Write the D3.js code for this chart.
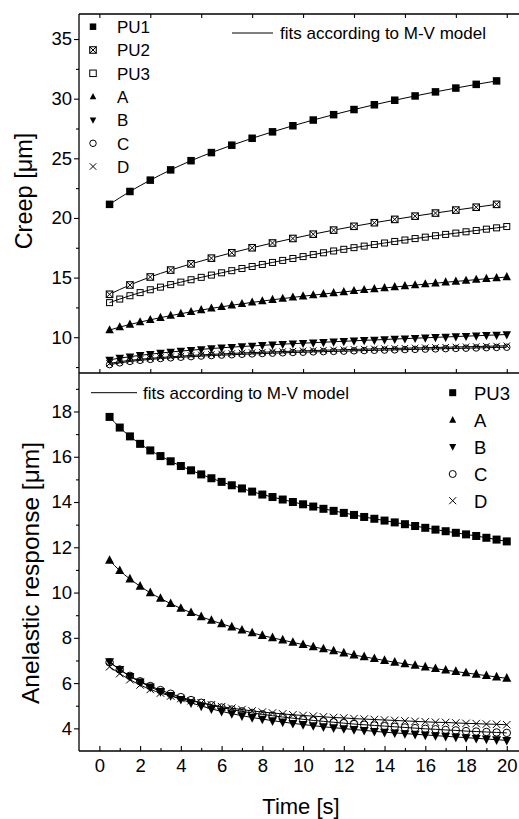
<!DOCTYPE html>
<html><head><meta charset="utf-8">
<script src="https://cdn.jsdelivr.net/npm/d3@7"></script>
<style>body{margin:0;background:#fff} text{font-family:Arial,"Liberation Sans",sans-serif;fill:#000}</style>
</head><body><svg id="c" width="519" height="819"></svg>
<script>
// ---- data ----
const timeCoarse = [0.5,1.5,2.5,3.5,4.5,5.5,6.5,7.5,8.5,9.5,10.5,11.5,12.5,13.5,14.5,15.5,16.5,17.5,18.5,19.5];
const timeFine = [0.5,1,1.5,2,2.5,3,3.5,4,4.5,5,5.5,6,6.5,7,7.5,8,8.5,9,9.5,10,10.5,11,11.5,12,12.5,13,13.5,14,14.5,15,15.5,16,16.5,17,17.5,18,18.5,19,19.5,20];

const creepPU1 = [21.14,22.22,23.17,24.03,24.8,25.48,26.1,26.68,27.22,27.73,28.21,28.66,29.09,29.49,29.87,30.23,30.57,30.89,31.2,31.49];
const creepPU2 = [13.6,14.38,15.05,15.63,16.15,16.63,17.08,17.5,17.9,18.28,18.64,18.98,19.3,19.6,19.88,20.15,20.41,20.66,20.9,21.14];
const creepPU3 = [12.9,13.2,13.48,13.74,13.98,14.2,14.41,14.62,14.82,15.02,15.21,15.4,15.58,15.76,15.93,16.1,16.27,16.44,16.6,16.76,16.93,17.08,17.23,17.37,17.51,17.64,17.77,17.9,18.03,18.15,18.27,18.39,18.51,18.62,18.73,18.84,18.95,19.06,19.17,19.28];
const creepA = [10.6,10.85,11.07,11.27,11.46,11.64,11.81,11.97,12.13,12.28,12.42,12.55,12.68,12.8,12.92,13.03,13.14,13.24,13.34,13.44,13.53,13.62,13.71,13.8,13.89,13.97,14.05,14.13,14.21,14.29,14.37,14.45,14.53,14.61,14.68,14.75,14.83,14.9,14.97,15.05];
const creepB = [8.1,8.25,8.37,8.48,8.58,8.67,8.76,8.84,8.91,8.98,9.05,9.11,9.17,9.22,9.27,9.32,9.37,9.42,9.46,9.5,9.54,9.58,9.62,9.66,9.7,9.74,9.77,9.81,9.85,9.88,9.92,9.95,9.99,10.02,10.06,10.09,10.12,10.16,10.19,10.23];
const creepC = [7.7,7.85,7.97,8.06,8.14,8.21,8.27,8.32,8.37,8.42,8.46,8.5,8.53,8.57,8.6,8.63,8.66,8.69,8.72,8.74,8.77,8.79,8.81,8.83,8.86,8.88,8.9,8.92,8.94,8.96,8.98,9.0,9.02,9.04,9.06,9.08,9.1,9.12,9.14,9.16];
const creepD = [7.8,7.95,8.06,8.15,8.23,8.3,8.36,8.42,8.47,8.52,8.56,8.6,8.64,8.68,8.71,8.74,8.77,8.8,8.83,8.86,8.88,8.91,8.93,8.95,8.98,9.0,9.02,9.04,9.06,9.08,9.1,9.12,9.14,9.16,9.18,9.2,9.22,9.24,9.26,9.28];

const anelPU3 = [17.76,17.29,16.9,16.57,16.28,16.03,15.8,15.59,15.4,15.22,15.05,14.89,14.74,14.6,14.46,14.33,14.22,14.11,14.0,13.9,13.8,13.7,13.61,13.52,13.43,13.34,13.26,13.18,13.1,13.02,12.94,12.86,12.78,12.71,12.64,12.57,12.5,12.42,12.34,12.26];
const anelA = [11.42,10.97,10.6,10.28,9.99,9.74,9.51,9.3,9.11,8.93,8.77,8.62,8.48,8.34,8.22,8.1,8.0,7.9,7.8,7.7,7.6,7.51,7.42,7.33,7.24,7.16,7.08,7.0,6.92,6.85,6.78,6.71,6.64,6.57,6.51,6.45,6.39,6.33,6.27,6.21];
const anelB = [6.95,6.6,6.3,6.05,5.83,5.63,5.45,5.28,5.13,4.99,4.86,4.75,4.65,4.56,4.48,4.41,4.34,4.28,4.22,4.17,4.12,4.07,4.03,3.99,3.95,3.91,3.87,3.83,3.8,3.77,3.74,3.71,3.68,3.65,3.62,3.59,3.56,3.53,3.5,3.47];
const anelC = [6.92,6.6,6.32,6.08,5.87,5.69,5.53,5.38,5.25,5.13,5.02,4.92,4.83,4.75,4.68,4.62,4.56,4.5,4.45,4.4,4.35,4.31,4.27,4.23,4.19,4.16,4.13,4.1,4.07,4.04,4.01,3.98,3.96,3.93,3.91,3.88,3.86,3.84,3.82,3.8];
const anelD = [6.72,6.42,6.15,5.92,5.72,5.56,5.43,5.32,5.22,5.13,5.04,4.96,4.89,4.83,4.77,4.72,4.68,4.64,4.6,4.57,4.54,4.51,4.48,4.46,4.43,4.41,4.39,4.37,4.35,4.33,4.31,4.29,4.27,4.26,4.24,4.22,4.21,4.19,4.18,4.16];

const creepTicks = [10,15,20,25,30,35];
const creepMinor = [7.5,12.5,17.5,22.5,27.5,32.5];
const anelTicks = [4,6,8,10,12,14,16,18];
const anelMinor = [5,7,9,11,13,15,17,19];
const timeTicks = [0,2,4,6,8,10,12,14,16,18,20];
const timeMinor = [1,3,5,7,9,11,13,15,17,19];
const timeTicksTop = [0,2.5,5,7.5,10,12.5,15,17.5,20];

const creepLegend = ["PU1","PU2","PU3","A","B","C","D"];
const anelLegend = ["PU3","A","B","C","D"];
const fitLabel = "fits according to M-V model";

// ---- drawing ----
const svg = d3.select("#c");
const L = 79, T = 14, MID = 373, B = 751, R = 519;
const x = d3.scaleLinear().domain([-1, 21]).range([L, L + 22*20.37]);
const yTop = d3.scaleLinear().domain([7, 37.1]).range([MID, T]);
const yBot = d3.scaleLinear().domain([3, 19.7]).range([B, MID]);

function marker(g, type, cx, cy, s) {
  const h = s/2;
  if (type === "sqFill") {
    g.append("rect").attr("x", cx-h).attr("y", cy-h).attr("width", s).attr("height", s).attr("fill", "#000");
  } else if (type === "sqX") {
    g.append("rect").attr("x", cx-h).attr("y", cy-h).attr("width", s).attr("height", s).attr("fill", "#fff").attr("stroke", "#000").attr("stroke-width", 1.1);
    g.append("path").attr("d", `M${cx-h},${cy-h}L${cx+h},${cy+h}M${cx+h},${cy-h}L${cx-h},${cy+h}`).attr("stroke", "#000").attr("stroke-width", 1);
  } else if (type === "sqOpen") {
    g.append("rect").attr("x", cx-h).attr("y", cy-h).attr("width", s).attr("height", s).attr("fill", "none").attr("stroke", "#000").attr("stroke-width", 1);
  } else if (type === "triUp") {
    g.append("path").attr("d", `M${cx},${cy-s*0.58}L${cx+h},${cy+s*0.38}L${cx-h},${cy+s*0.38}Z`).attr("fill", "#000");
  } else if (type === "triDown") {
    g.append("path").attr("d", `M${cx},${cy+s*0.58}L${cx+h},${cy-s*0.38}L${cx-h},${cy-s*0.38}Z`).attr("fill", "#000");
  } else if (type === "circle") {
    g.append("circle").attr("cx", cx).attr("cy", cy).attr("r", h).attr("fill", "none").attr("stroke", "#000").attr("stroke-width", 1);
  } else if (type === "cross") {
    g.append("path").attr("d", `M${cx-h},${cy-h}L${cx+h},${cy+h}M${cx+h},${cy-h}L${cx-h},${cy+h}`).attr("stroke", "#000").attr("stroke-width", 1);
  }
}

function series(g, ys, t, v) {
  const line = d3.line().x((d,i)=>x(t[i])).y(d=>ys(d)).curve(d3.curveMonotoneX);
  g.append("path").attr("d", line(v)).attr("fill", "none").attr("stroke", "#000").attr("stroke-width", 1);
}
function markers(g, ys, t, v, type, s) {
  v.forEach((d,i)=>marker(g, type, x(t[i]), ys(d), s));
}

const creepSeries = [
  {t: timeCoarse, v: creepPU1, type: "sqFill", s: 7.5},
  {t: timeCoarse, v: creepPU2, type: "sqX", s: 6.5},
  {t: timeFine, v: creepPU3, type: "sqOpen", s: 6},
  {t: timeFine, v: creepA, type: "triUp", s: 8.5},
  {t: timeFine, v: creepB, type: "triDown", s: 8.5},
  {t: timeFine, v: creepC, type: "circle", s: 6.5},
  {t: timeFine, v: creepD, type: "cross", s: 6.5}
];
const anelSeries = [
  {t: timeFine, v: anelPU3, type: "sqFill", s: 8},
  {t: timeFine, v: anelA, type: "triUp", s: 9},
  {t: timeFine, v: anelB, type: "triDown", s: 9},
  {t: timeFine, v: anelC, type: "circle", s: 7.5},
  {t: timeFine, v: anelD, type: "cross", s: 7.5}
];

const gLines = svg.append("g");
const gMarks = svg.append("g");
creepSeries.forEach(d => series(gLines, yTop, d.t, d.v));
anelSeries.forEach(d => series(gLines, yBot, d.t, d.v));
creepSeries.forEach(d => markers(gMarks, yTop, d.t, d.v, d.type, d.s));
anelSeries.forEach(d => markers(gMarks, yBot, d.t, d.v, d.type, d.s));

// ---- axes ----
const axW = 1.3;
function styleAxis(g, fs) {
  g.select(".domain").remove();
  g.selectAll("line").attr("stroke", "#000").attr("stroke-width", 1.1);
  g.selectAll("text").style("font-size", fs + "px").attr("fill", "#000");
}
svg.append("g").attr("transform", `translate(${L},0)`)
  .call(d3.axisLeft(yTop).tickValues(creepTicks).tickSize(5).tickPadding(2).tickSizeOuter(0))
  .call(g => styleAxis(g, 18.5));
svg.append("g").attr("transform", `translate(${L},0)`)
  .call(d3.axisLeft(yTop).tickValues(creepMinor).tickSize(3).tickFormat("").tickSizeOuter(0))
  .call(g => styleAxis(g, 18));
svg.append("g").attr("transform", `translate(${L},0)`)
  .call(d3.axisLeft(yBot).tickValues(anelTicks).tickSize(5).tickPadding(2).tickSizeOuter(0))
  .call(g => styleAxis(g, 18.5));
svg.append("g").attr("transform", `translate(${L},0)`)
  .call(d3.axisLeft(yBot).tickValues(anelMinor).tickSize(3).tickFormat("").tickSizeOuter(0))
  .call(g => styleAxis(g, 18));
svg.append("g").attr("transform", `translate(0,${B})`)
  .call(d3.axisBottom(x).tickValues(timeTicks).tickSize(-5).tickPadding(8).tickSizeOuter(0))
  .call(g => styleAxis(g, 18.5));
svg.append("g").attr("transform", `translate(0,${B})`)
  .call(d3.axisBottom(x).tickValues(timeMinor).tickSize(-3).tickFormat("").tickSizeOuter(0))
  .call(g => styleAxis(g, 18));
svg.append("g").attr("transform", `translate(0,${T})`)
  .call(d3.axisTop(x).tickValues(timeTicksTop).tickSize(-4).tickFormat("").tickSizeOuter(0))
  .call(g => styleAxis(g, 18));
svg.append("g").attr("transform", `translate(0,${MID})`)
  .call(d3.axisBottom(x).tickValues(timeTicksTop).tickSize(-4).tickFormat("").tickSizeOuter(0))
  .call(g => styleAxis(g, 18));

const frame = svg.append("g").attr("stroke", "#000").attr("stroke-width", axW);
frame.append("line").attr("x1", L).attr("x2", R).attr("y1", T).attr("y2", T);
frame.append("line").attr("x1", L).attr("x2", R).attr("y1", MID).attr("y2", MID);
frame.append("line").attr("x1", L).attr("x2", R).attr("y1", B).attr("y2", B);
frame.append("line").attr("x1", L).attr("x2", L).attr("y1", T).attr("y2", B);

svg.append("text").attr("transform", `translate(32,191) rotate(-90)`).attr("text-anchor", "middle")
  .style("font-size", "23.5px").text("Creep [\u03bcm]");
svg.append("text").attr("transform", `translate(39,573) rotate(-90)`).attr("text-anchor", "middle")
  .style("font-size", "24.5px").text("Anelastic response [\u03bcm]");
svg.append("text").attr("x", 301).attr("y", 814).attr("text-anchor", "middle")
  .style("font-size", "22px").text("Time [s]");

const legTop = svg.append("g");
const legTopY = [26.7, 50, 73.3, 96.7, 120, 143.3, 166.5];
creepLegend.forEach((name, i) => {
  const sd = creepSeries[i];
  marker(legTop, sd.type, 93, legTopY[i], 6.5);
  legTop.append("text").attr("x", 117).attr("y", legTopY[i] + 6.3).style("font-size", "17px").text(name);
});
legTop.append("line").attr("x1", 232).attr("x2", 273).attr("y1", 33).attr("y2", 33).attr("stroke", "#000").attr("stroke-width", 1);
legTop.append("text").attr("x", 280).attr("y", 39).style("font-size", "17px").text(fitLabel);

const legBot = svg.append("g");
legBot.append("line").attr("x1", 91).attr("x2", 137).attr("y1", 392.7).attr("y2", 392.7).attr("stroke", "#000").attr("stroke-width", 1);
legBot.append("text").attr("x", 143).attr("y", 399).style("font-size", "17px").text(fitLabel);
const legBotY = [392.7, 420, 446.7, 474, 500.7];
anelLegend.forEach((name, i) => {
  const sd = anelSeries[i];
  marker(legBot, sd.type, 452.7, legBotY[i], 7);
  legBot.append("text").attr("x", 474).attr("y", legBotY[i] + 6.8).style("font-size", "18.5px").text(name);
});
</script></body></html>
